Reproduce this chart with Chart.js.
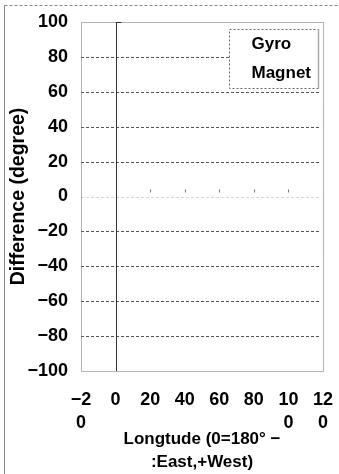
<!DOCTYPE html>
<html>
<head>
<meta charset="utf-8">
<script src="https://cdn.jsdelivr.net/npm/chart.js@4/dist/chart.umd.min.js"></script>
<style>
  html, body { margin: 0; padding: 0; background: #fff; }
  #wrap { width: 339px; height: 474px; position: relative; }
</style>
</head>
<body>
<div id="wrap"><canvas id="c" width="339" height="474"></canvas></div>
<script>
// Series (no plotted points in this sheet, only the legend entries)
const seriesNames = ['Gyro', 'Magnet'];
const gyroDiff = [];
const magnetDiff = [];

// Axis ranges and tick labels
const xMin = -20, xMax = 120, xStep = 20;
const yMin = -100, yMax = 100, yStep = 20;
const xTickValues = [-20, 0, 20, 40, 60, 80, 100, 120];
const xTickLabels = [['\u22122', '0'], '0', '20', '40', '60', '80', ['10', '0'], ['12', '0']];
const xTitle = ['Longtude (0=180\u00b0 \u2212', ':East,+West)'];
const yTitle = 'Difference (degree)';

const FONT = "'Liberation Sans', Arial, sans-serif";

// Frame, grid lines, zero axis marks and the in-plot legend box
const framePlugin = {
  id: 'frame',
  beforeDraw(chart) {
    const ctx = chart.ctx;
    ctx.save();
    ctx.strokeStyle = '#888';
    ctx.lineWidth = 1;
    ctx.setLineDash([3, 2]);
    ctx.beginPath();
    ctx.moveTo(4.5, 5.5); ctx.lineTo(chart.width, 5.5);
    ctx.stroke();
    ctx.setLineDash([]);
    ctx.beginPath();
    ctx.moveTo(4.5, 5.5); ctx.lineTo(4.5, chart.height);
    ctx.stroke();
    ctx.restore();
  },
  beforeDatasetsDraw(chart) {
    const {ctx, chartArea: a, scales: {x, y}} = chart;
    ctx.save();
    // horizontal grid lines
    for (let v = yMin + yStep; v < yMax; v += yStep) {
      const py = Math.round(y.getPixelForValue(v)) + 0.5;
      ctx.setLineDash([3, 2]);
      ctx.strokeStyle = v === 0 ? '#d8d8d8' : '#555';
      ctx.lineWidth = 1;
      ctx.beginPath();
      ctx.moveTo(a.left, py); ctx.lineTo(a.right - 2, py);
      ctx.stroke();
    }
    // plot area border
    ctx.setLineDash([1, 1]);
    ctx.strokeStyle = '#666';
    ctx.strokeRect(Math.round(a.left) + 0.5, Math.round(a.top) + 0.5,
                   Math.round(a.right - a.left), Math.round(a.bottom - a.top));
    // vertical axis at x = 0
    const px0 = Math.round(x.getPixelForValue(0)) + 0.5;
    ctx.setLineDash([]);
    ctx.strokeStyle = '#333';
    ctx.beginPath();
    ctx.moveTo(px0, a.top); ctx.lineTo(px0, a.bottom);
    ctx.stroke();
    ctx.beginPath();
    ctx.moveTo(px0, a.top + 0.5); ctx.lineTo(px0 + 5, a.top + 0.5);
    ctx.stroke();
    // tick marks of the horizontal axis at y = 0
    const py0 = y.getPixelForValue(0);
    ctx.strokeStyle = '#777';
    xTickValues.forEach(v => {
      if (v <= 0 || v >= xMax) return;
      const px = Math.round(x.getPixelForValue(v)) + 0.5;
      ctx.beginPath();
      ctx.moveTo(px, py0 - 7); ctx.lineTo(px, py0 - 4);
      ctx.stroke();
    });
    // legend box
    const bw = 89, bh = 59;
    const bx = Math.round(a.right - 5 - bw) + 0.5, by = Math.round(a.top + 7) + 0.5;
    ctx.fillStyle = '#fff';
    ctx.fillRect(bx, by, bw, bh);
    ctx.setLineDash([2, 2]);
    ctx.strokeStyle = '#666';
    ctx.strokeRect(bx, by, bw, bh);
    ctx.setLineDash([]);
    ctx.strokeStyle = '#aaa';
    ctx.lineWidth = 1.5;
    ctx.beginPath();
    ctx.moveTo(bx + bw, by); ctx.lineTo(bx + bw, by + bh);
    ctx.stroke();
    ctx.fillStyle = '#000';
    ctx.font = 'bold 17px ' + FONT;
    ctx.textBaseline = 'middle';
    ctx.textAlign = 'left';
    chart.data.datasets.forEach((ds, i) => {
      ctx.fillText(ds.label, bx + 22, by + 15 + i * 29);
    });
    ctx.restore();
  }
};

new Chart(document.getElementById('c'), {
  type: 'scatter',
  data: {
    datasets: [
      { label: seriesNames[0], data: gyroDiff, pointRadius: 3, backgroundColor: '#000', borderColor: '#000' },
      { label: seriesNames[1], data: magnetDiff, pointRadius: 3, backgroundColor: '#fff', borderColor: '#000' }
    ]
  },
  options: {
    responsive: false,
    devicePixelRatio: 1,
    animation: false,
    layout: { padding: { left: 5, top: 22, right: 16, bottom: 0 } },
    plugins: { legend: { display: false }, tooltip: { enabled: false } },
    scales: {
      x: {
        type: 'linear', min: xMin, max: xMax,
        afterBuildTicks: s => { s.ticks = xTickValues.map(v => ({ value: v })); },
        afterFit: s => { s.height = 103; s.paddingLeft = 0; s.paddingRight = 0; },
        grid: { display: false, drawTicks: false },
        border: { display: false },
        ticks: {
          autoSkip: false, maxRotation: 0, padding: 17, color: '#000',
          font: { family: FONT, size: 18, weight: 'bold', lineHeight: 1.3 },
          callback: v => xTickLabels[xTickValues.indexOf(v)]
        },
        title: {
          display: true, text: xTitle, color: '#000',
          padding: { top: 0, bottom: 0 },
          font: { family: FONT, size: 17, weight: 'bold', lineHeight: 1.35 }
        }
      },
      y: {
        min: yMin, max: yMax,
        afterFit: s => { s.width = 76; s.paddingTop = 0; s.paddingBottom = 0; },
        grid: { display: false, drawTicks: false },
        border: { display: false },
        ticks: {
          stepSize: yStep, padding: 13, color: '#000',
          font: { family: FONT, size: 18, weight: 'bold' },
          callback: v => String(v).replace('-', '\u2212')
        },
        title: {
          display: true, text: yTitle, color: '#000',
          padding: { top: 0, bottom: 0 },
          font: { family: FONT, size: 19.5, weight: 'bold', lineHeight: 1.35 }
        }
      }
    }
  },
  plugins: [framePlugin]
});
</script>
</body>
</html>
